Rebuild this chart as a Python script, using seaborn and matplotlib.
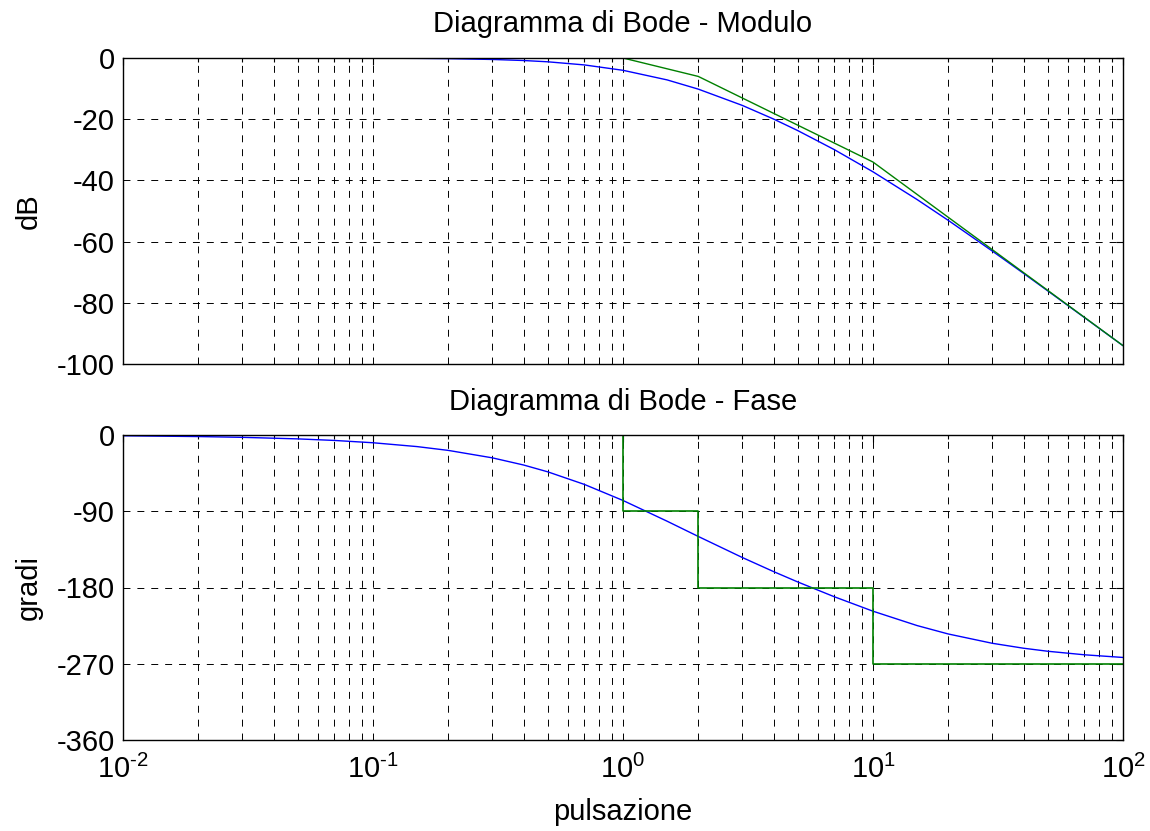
import numpy as np
import pandas as pd
import matplotlib
matplotlib.use('Agg')
import matplotlib.pyplot as plt
import seaborn as sns
from matplotlib.ticker import LogLocator, NullFormatter, FuncFormatter

# Frequencies (rad/s) and values
w = [0.01, 0.02, 0.03, 0.05, 0.07, 0.1, 0.15, 0.2, 0.3, 0.4, 0.5, 0.7,
     1, 1.5, 2, 3, 4, 5, 7, 10, 15, 20, 30, 40, 50, 70, 100]
mag_db = [0.0, -0.002, -0.005, -0.014, -0.027, -0.055, -0.122, -0.215, -0.475, -0.82, -1.24, -2.26,
          -4.02, -7.15, -10.17, -15.49, -19.94, -23.72, -29.94, -37.20, -46.24, -53.06, -63.09,
          -70.37, -76.10, -84.78, -94.02]
phase_deg = [-0.92, -1.83, -2.75, -4.58, -6.41, -9.15, -13.68, -18.17, -26.95, -35.40, -43.47, -58.28,
             -77.28, -101.71, -119.74, -144.58, -161.19, -173.46, -190.91, -207.98, -224.91, -234.86,
             -245.85, -251.67, -255.25, -259.41, -262.57]

# Asymptotic (green) approximations
asym_w = [0.01, 1, 2, 10, 100]
asym_mag = [0.0, 0.0, -6.02, -34.0, -94.0]
step_w = [0.01, 1, 1, 2, 2, 10, 10, 100]
step_phase = [0, 0, -90, -90, -180, -180, -270, -270]

mag_ticks = [0, -20, -40, -60, -80, -100]
phase_ticks = [0, -90, -180, -270, -360]

sns.set_theme(style='white')
plt.rcParams['font.family'] = ['Liberation Sans', 'DejaVu Sans']
plt.rcParams['mathtext.fontset'] = 'custom'
plt.rcParams['mathtext.rm'] = 'Liberation Sans'
plt.rcParams['axes.unicode_minus'] = False
plt.rcParams['lines.scale_dashes'] = False
plt.rcParams['text.color'] = 'black'
plt.rcParams['axes.labelcolor'] = 'black'
plt.rcParams['xtick.color'] = 'black'
plt.rcParams['ytick.color'] = 'black'

FS = 21
blue = (0, 0, 1)
green = (0, 0.5, 0)


def pow10(x, pos):
    e = int(round(np.log10(x)))
    if e < 0:
        return r'$\mathregular{10^{\text{-}%d}}$' % (-e)
    return r'$\mathregular{10^{%d}}$' % e


fig = plt.figure(figsize=(11.5, 8.31), dpi=100)
ax1 = fig.add_axes([123 / 1150, 1 - 364 / 831, 1000 / 1150, 306 / 831])
ax2 = fig.add_axes([123 / 1150, 1 - 740 / 831, 1000 / 1150, 305 / 831])

curves = pd.DataFrame({'w': w, 'mag': mag_db, 'phase': phase_deg})
asym = pd.DataFrame({'w': asym_w, 'mag': asym_mag})
steps = pd.DataFrame({'w': step_w, 'phase': step_phase})

sns.lineplot(data=curves, x='w', y='mag', ax=ax1, color=blue, lw=1, estimator=None, sort=False)
sns.lineplot(data=asym, x='w', y='mag', ax=ax1, color=green, lw=1, estimator=None, sort=False)
sns.lineplot(data=curves, x='w', y='phase', ax=ax2, color=blue, lw=1, estimator=None, sort=False)
sns.lineplot(data=steps, x='w', y='phase', ax=ax2, color=green, lw=1.2, estimator=None, sort=False)

for ax, ticks in [(ax1, mag_ticks), (ax2, phase_ticks)]:
    ax.set_xscale('log')
    ax.set_xlim(0.01, 100)
    ax.set_ylim(ticks[-1], ticks[0])
    ax.set_yticks(ticks)
    ax.xaxis.set_major_locator(LogLocator(base=10, numticks=10))
    ax.xaxis.set_major_formatter(FuncFormatter(pow10))
    ax.xaxis.set_minor_locator(LogLocator(base=10, subs=np.arange(2, 10), numticks=50))
    ax.xaxis.set_minor_formatter(NullFormatter())
    ax.grid(True, which='major', axis='both', color='black', lw=0.7, linestyle=(0, (5, 5)))
    ax.grid(True, which='minor', axis='x', color='black', lw=0.7, linestyle=(0, (5, 5)))
    ax.tick_params(which='both', direction='in', top=True, right=True, labelsize=FS,
                   length=5, width=0.8, color='black', pad=6)
    ax.tick_params(which='minor', length=3)
    for s in ax.spines.values():
        s.set_color('black')
        s.set_linewidth(1)
    ax.set_xlabel('')

ax1.set_xticklabels([])
ax1.set_title('Diagramma di Bode - Modulo', fontsize=FS, pad=19)
ax2.set_title('Diagramma di Bode - Fase', fontsize=FS, pad=18)
ax1.set_ylabel('dB', fontsize=FS, labelpad=10)
ax2.set_ylabel('gradi', fontsize=FS, labelpad=10)
ax2.set_xlabel('pulsazione', fontsize=FS, labelpad=10)
ax2.tick_params(axis='x', pad=11)

fig.savefig('out.png', dpi=100)
